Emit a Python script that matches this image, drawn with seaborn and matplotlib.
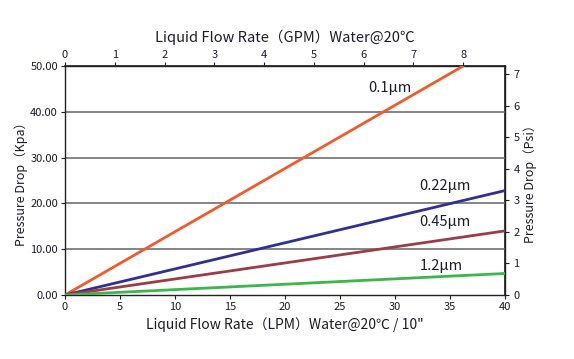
import matplotlib
matplotlib.use("Agg")
import matplotlib.pyplot as plt
import seaborn as sns
import pandas as pd

sns.set_theme(style="white")
plt.rcParams['font.family'] = ['Noto Sans CJK SC', 'DejaVu Sans']

series = ["0.1μm", "0.22μm", "0.45μm", "1.2μm"]
flow_lpm = {"0.1μm": [0, 36.2], "0.22μm": [0, 40], "0.45μm": [0, 40], "1.2μm": [0, 40]}
drop_kpa = {"0.1μm": [0, 50.0], "0.22μm": [0, 22.8], "0.45μm": [0, 14.0], "1.2μm": [0, 4.7]}
colors = ["#f15a2b", "#2e3192", "#9a3d46", "#3cb54a"]
label_pos = {"0.1μm": (29.5, 45.3), "0.22μm": (34.5, 23.8), "0.45μm": (34.5, 15.9), "1.2μm": (34.2, 6.4)}

rows = []
for s in series:
    for x, y in zip(flow_lpm[s], drop_kpa[s]):
        rows.append({"LPM": x, "kPa": y, "Filter": s})
df = pd.DataFrame(rows)

txt = "#1c1c2a"
fig = plt.figure(figsize=(5.74, 3.59), dpi=100)
ax = fig.add_axes([65/574, 1-295/359, 440/574, 229/359])

for v in [10, 20, 30, 40]:
    ax.axhline(v, color="#707070", lw=1.2, zorder=1)

sns.lineplot(data=df, x="LPM", y="kPa", hue="Filter", palette=colors,
             lw=2, legend=False, ax=ax, zorder=3)

for s in series:
    ax.text(*label_pos[s], s, fontsize=10.5, color=txt, ha="center", va="center")

ax.set_xlim(0, 40)
ax.set_ylim(0, 50)
ax.set_xticks(range(0, 41, 5))
ax.set_yticks(range(0, 51, 10))
ax.set_yticklabels([f"{v:.2f}" for v in range(0, 51, 10)])
ax.tick_params(axis="both", direction="out", length=3, width=0.8, labelsize=8,
               colors=txt, pad=2, left=True, bottom=True)
ax.set_xlabel("Liquid Flow Rate（LPM）Water@20℃ / 10\"", fontsize=10, color=txt, labelpad=4)
ax.set_ylabel("Pressure Drop（Kpa）", fontsize=9, color=txt, labelpad=2)
for sp in ax.spines.values():
    sp.set_color("#222222")
    sp.set_linewidth(1.0)
    sp.set_visible(True)

top = ax.secondary_xaxis("top", functions=(lambda x: x / 4.525, lambda g: g * 4.525))
top.set_xticks(range(0, 9))
top.tick_params(direction="out", length=3, width=0.8, labelsize=8, colors=txt, pad=1)
top.set_xlabel("Liquid Flow Rate（GPM）Water@20℃", fontsize=10.5, color=txt, labelpad=6)

right = ax.secondary_yaxis("right", functions=(lambda k: k * 0.145038, lambda p: p / 0.145038))
right.set_yticks(range(0, 8))
right.tick_params(direction="out", length=3, width=0.8, labelsize=8, colors=txt, pad=3)
right.set_ylabel("Pressure Drop（Psi）", fontsize=9, color=txt, labelpad=3)

fig.savefig("out.png", dpi=100, facecolor="white")
